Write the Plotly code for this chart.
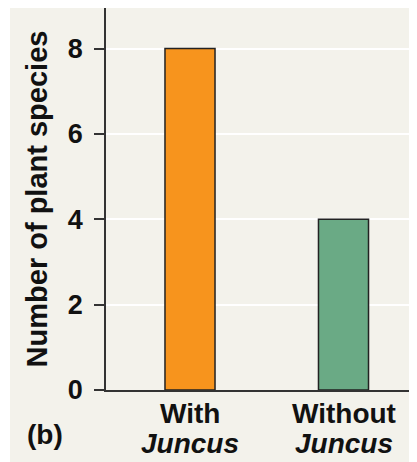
import plotly.graph_objects as go

categories = ["With", "Without"]
second_line = ["Juncus", "Juncus"]
values = [8, 4]
bar_colors = ["#F7941D", "#6AAA85"]
y_ticks = [0, 2, 4, 6, 8]

# page has an 8px body margin; figure extends slightly past the window edge
W, H = 417, 454
L, R, T, B = 98, 0, 0, 72
pw, ph = W - L - R, H - T - B
OX, OY = 8, 8              # screen offset of the figure
AX_LEFT = L + OX           # screen x of plot left
AX_BOTTOM = T + ph + OY    # screen y of plot bottom
UNIT = 153.5               # px per category step
C0 = 190                   # screen x of first category centre


def px(xs):
    return (xs - AX_LEFT) / pw


def py(ys):
    return (AX_BOTTOM - ys) / ph


fig = go.Figure(go.Bar(
    x=categories, y=values, width=0.326,
    marker=dict(color=bar_colors, line=dict(color="#222222", width=1.5)),
))

font = "Liberation Sans, Arial, sans-serif"

annotations = []
for c, s in zip(categories, second_line):
    annotations.append(dict(x=c, xref="x", y=py(413), yref="paper",
                            text=f"<b>{c}</b>", showarrow=False, yanchor="middle",
                            font=dict(size=28, color="#111", family=font)))
    annotations.append(dict(x=c, xref="x", y=py(443), yref="paper",
                            text=f"<b><i>{s}</i></b>", showarrow=False, yanchor="middle",
                            font=dict(size=28, color="#111", family=font)))
annotations.append(dict(x=px(45), xref="paper", y=py(434), yref="paper",
                        text="<b>(b)</b>", showarrow=False, xanchor="center", yanchor="middle",
                        font=dict(size=28, color="#111", family=font)))

x_lo = (AX_LEFT - C0) / UNIT
x_hi = x_lo + pw / UNIT

fig.update_layout(
    width=W, height=H,
    margin=dict(l=L, r=R, t=T, b=B, pad=0),
    paper_bgcolor="white",
    plot_bgcolor="#E8E5D8",
    showlegend=False,
    font=dict(family=font, color="#111"),
    annotations=annotations,
    shapes=[dict(type="rect", xref="paper", yref="paper", layer="below",
                 x0=px(10), x1=1.02, y0=-(B + 2) / ph, y1=1.0,
                 fillcolor="#F3F2EB", line=dict(width=0))],
    xaxis=dict(range=[x_lo, x_hi], showticklabels=False, ticks="",
               showgrid=False, showline=True, linecolor="#333333", linewidth=1.5,
               zeroline=False, fixedrange=True),
    yaxis=dict(range=[0, 8.95], tickvals=y_ticks, ticks="outside", ticklen=10,
               tickwidth=1.5, tickcolor="#333333", showline=True, linecolor="#333333",
               linewidth=1.5, showgrid=True, gridcolor="white", gridwidth=1.5,
               zeroline=False, ticklabelstandoff=6,
               tickfont=dict(size=27, family=font, color="#111", weight="bold"),
               title=dict(text="<b>Number of plant species</b>", standoff=12,
                          font=dict(size=29, family=font, color="#111"))),
)

fig.write_html("out.html")
